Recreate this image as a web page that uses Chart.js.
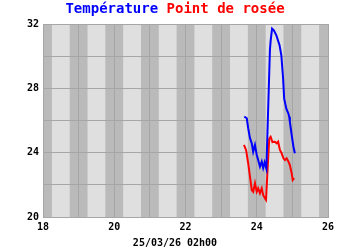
<!DOCTYPE html>
<html>
<head>
<meta charset="utf-8">
<script src="https://cdn.jsdelivr.net/npm/chart.js@4.4.1/dist/chart.umd.min.js"></script>
<style>
    html, body { margin: 0; padding: 0; background: #ffffff; }
    #graphique { display: block; }
</style>
</head>
<body>
<canvas id="graphique" width="350" height="250"></canvas>
<script>
// Données (jour du mois, °C)
const tempsTemperature = [23.65, 23.72, 23.76, 23.81, 23.86, 23.90, 23.95, 24.00, 24.04, 24.09, 24.14, 24.18, 24.22, 24.27, 24.37, 24.39, 24.43, 24.48, 24.55, 24.60, 24.64, 24.69, 24.74, 24.77, 24.83, 24.89, 24.91, 24.93, 24.98, 25.03, 25.07];
const valeursTemperature = [26.24, 26.14, 25.52, 24.90, 24.58, 24.06, 24.48, 23.86, 23.54, 23.13, 23.44, 23.05, 23.40, 23.00, 30.40, 30.95, 31.71, 31.61, 31.30, 30.95, 30.68, 30.06, 28.60, 27.36, 26.74, 26.42, 26.24, 25.91, 25.10, 24.37, 23.96];

const tempsRosee = [23.64, 23.70, 23.76, 23.81, 23.86, 23.90, 23.95, 24.00, 24.04, 24.09, 24.14, 24.18, 24.23, 24.26, 24.29, 24.35, 24.39, 24.44, 24.51, 24.56, 24.60, 24.65, 24.70, 24.75, 24.79, 24.84, 24.89, 24.93, 24.98, 25.01, 25.05];
const valeursRosee = [24.48, 24.17, 23.34, 22.51, 21.68, 21.57, 22.10, 21.57, 21.78, 21.47, 21.78, 21.37, 21.16, 21.06, 22.38, 24.87, 24.98, 24.66, 24.68, 24.58, 24.68, 24.17, 23.96, 23.65, 23.54, 23.65, 23.44, 23.23, 22.72, 22.30, 22.41];

const ticksX = [18, 20, 22, 24, 26];
const ticksY = [20, 24, 28, 32];
const dateReleve = "25/03/26 02h00";

const police = "'DejaVu Sans Mono', monospace";

// bandes de nuit (gris foncé) autour de chaque minuit
const pluginFond = {
    id: "fond",
    beforeDraw(chart) {
        const ctx = chart.ctx;
        const zone = chart.chartArea;
        const x = chart.scales.x;
        ctx.save();
        ctx.fillStyle = "#dfdfdf";
        ctx.fillRect(zone.left, zone.top, zone.right - zone.left, zone.bottom - zone.top);
        ctx.fillStyle = "#bababa";
        for (let j = Math.floor(x.min); j <= Math.ceil(x.max); j++) {
            const g = Math.max(x.getPixelForValue(j - 0.25), zone.left);
            const d = Math.min(x.getPixelForValue(j + 0.25), zone.right);
            if (d > g) ctx.fillRect(g, zone.top, d - g, zone.bottom - zone.top);
        }
        ctx.restore();
    }
};

// titre en deux couleurs
const pluginTitre = {
    id: "titre",
    afterDraw(chart) {
        const ctx = chart.ctx;
        const series = chart.data.datasets;
        ctx.save();
        ctx.font = "bold 14px " + police;
        ctx.textBaseline = "alphabetic";
        const morceaux = series.map((s, i) => (i < series.length - 1 ? s.label + " " : s.label));
        const total = ctx.measureText(morceaux.join("")).width;
        let x = chart.width / 2 - total / 2;
        morceaux.forEach((m, i) => {
            ctx.fillStyle = series[i].borderColor;
            ctx.fillText(m, x, 13);
            x += ctx.measureText(m).width;
        });
        ctx.restore();
    }
};

new Chart(document.getElementById("graphique"), {
    type: "line",
    data: {
        datasets: [{
            label: "Température",
            data: tempsTemperature.map((t, i) => ({ x: t, y: valeursTemperature[i] })),
            borderColor: "#0000ff",
            borderWidth: 2,
            pointRadius: 0,
            tension: 0
        }, {
            label: "Point de rosée",
            data: tempsRosee.map((t, i) => ({ x: t, y: valeursRosee[i] })),
            borderColor: "#ff0000",
            borderWidth: 2,
            pointRadius: 0,
            tension: 0
        }]
    },
    options: {
        responsive: false,
        animation: false,
        layout: { padding: { top: 24, left: 0, right: 0, bottom: 0 } },
        plugins: {
            legend: { display: false },
            tooltip: { enabled: false },
            subtitle: {
                display: true,
                position: "bottom",
                text: dateReleve,
                color: "#000000",
                font: { family: police, size: 10, weight: "bold" },
                padding: { top: 3, bottom: 1 }
            }
        },
        scales: {
            x: {
                type: "linear",
                min: 18,
                max: 26,
                grid: { color: "#a6a6a6", drawTicks: false },
                border: { color: "#a6a6a6" },
                ticks: {
                    stepSize: 1,
                    autoSkip: false,
                    maxRotation: 0,
                    padding: 4,
                    color: "#000000",
                    font: { family: police, size: 10, weight: "bold" },
                    callback: v => (ticksX.includes(v) ? v : "")
                },
                afterFit(s) { s.height = 17; }
            },
            y: {
                min: 20,
                max: 32,
                grid: { color: "#a6a6a6", drawTicks: false },
                border: { color: "#a6a6a6" },
                ticks: {
                    stepSize: 2,
                    padding: 4,
                    color: "#000000",
                    font: { family: police, size: 10, weight: "bold" },
                    callback: v => (ticksY.includes(v) ? v : "")
                },
                afterFit(s) { s.width = 43; }
            },
            marge: {
                position: "right",
                grid: { display: false },
                border: { display: false },
                ticks: { display: false },
                afterFit(s) { s.width = 22; }
            }
        }
    },
    plugins: [pluginFond, pluginTitre]
});
</script>
</body>
</html>
